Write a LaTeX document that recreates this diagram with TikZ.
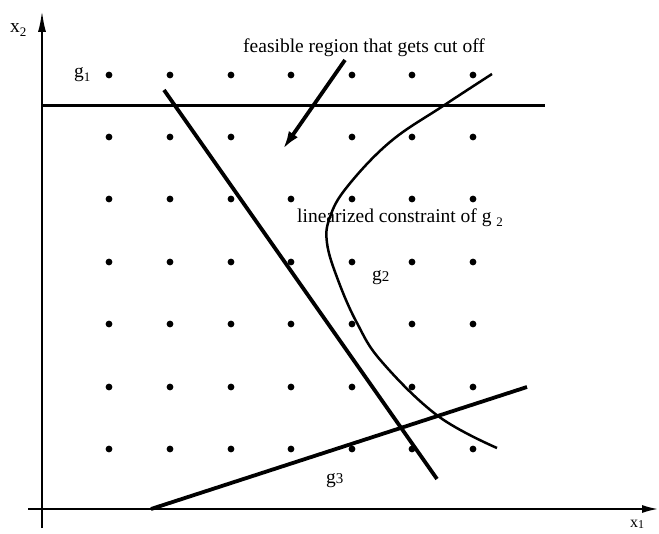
\documentclass[tikz,border=0pt]{standalone}
\usepackage{fontspec}
\setmainfont{Liberation Serif}
\usetikzlibrary{arrows.meta}
\tikzset{
  axis/.style={line width=2.4pt},
  thickline/.style={line width=3.8pt},
  cutline/.style={line width=3pt},
  curveline/.style={line width=2.5pt},
  gdot/.style={circle,fill=black,inner sep=0pt,minimum size=6.8pt},
  lbl/.style={inner sep=0pt,font=\fontsize{19.5}{21}\selectfont},
}
\newcommand{\sbs}[1]{\raisebox{-0.35ex}{\fontsize{13}{13}\selectfont #1}}
\begin{document}
\begin{tikzpicture}[x=1pt,y=-1pt]
\useasboundingbox (0,0) rectangle (659,534);
% axes
\coordinate (ybot) at (42,528);
\coordinate (ytop) at (42,10);
\coordinate (xleft) at (28,509);
\coordinate (xright) at (659,509);
\draw[axis,-{Latex[length=22pt,width=8pt]}] (ybot) -- (ytop);
\draw[axis,-{Latex[length=17pt,width=8pt]}] (xleft) -- (xright);
% dots
\foreach \yy in {75,137,199,262,324,387,449}{
  \foreach \xx in {109,170,231,291,352,412,473}{
    \pgfmathtruncatemacro{\skip}{(\xx==291)&&(\yy==137)}
    \ifnum\skip=0
      \node[gdot] (d-\xx-\yy) at (\xx,\yy) {};
    \fi
  }
}
% g1 horizontal constraint
\coordinate (g1a) at (42,106);
\coordinate (g1b) at (545,106);
\draw[cutline] (g1a) -- (g1b);
% linearized constraint (straight line)
\coordinate (la) at (164,90);
\coordinate (lb) at (437,479);
\draw[thickline] (la) -- (lb);
% g3
\coordinate (g3a) at (151,509);
\coordinate (g3b) at (527,387);
\draw[thickline] (g3a) -- (g3b);
% g2 curve
\draw[curveline] plot[smooth,tension=0.65] coordinates {(492,74) (443,106) (390,142) (347,187) (330,217) (327,243) (338,280) (357,323) (382,362) (438,416) (497,448)};
% arrow
\coordinate (arA) at (345,60);
\coordinate (arB) at (283,149);
\draw[thickline,-{Latex[length=18pt,width=11pt]}] (arA) -- (arB);
% labels
\node[lbl,anchor=base west] (tfeas) at (243,53) {feasible region that gets cut off};
\node[lbl,anchor=base west] (tlin) at (297,223) {linearized constraint of g \sbs{2}};
\node[lbl,anchor=base west] (tg1) at (74,78) {g\sbs{1}};
\node[lbl,anchor=base west] (tg2) at (372,281) {g\raisebox{-0.1ex}{\fontsize{15}{15}\selectfont 2}};
\node[lbl,anchor=base west] (tg3) at (326,483) {g\raisebox{-0.1ex}{\fontsize{15}{15}\selectfont 3}};
\node[lbl,anchor=base west] (tx2) at (10,33) {x\sbs{2}};
\node[lbl,anchor=base west,font=\fontsize{16}{18}\selectfont] (tx1) at (630,527) {x\raisebox{-0.2ex}{\fontsize{12}{12}\selectfont 1}};
\end{tikzpicture}
\end{document}
